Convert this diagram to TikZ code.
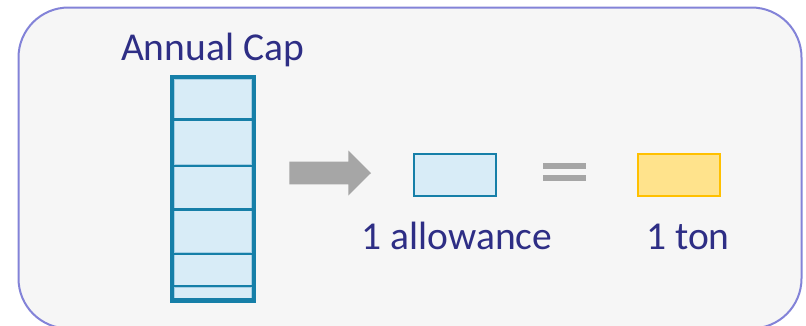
\documentclass[tikz,border=0pt]{standalone}
\usepackage{fontspec}
\setmainfont{Carlito}
\definecolor{frameC}{HTML}{8383D8}
\definecolor{bgC}{HTML}{F6F6F6}
\definecolor{navy}{HTML}{2E2E85}
\definecolor{tealC}{HTML}{167FA8}
\definecolor{lightC}{HTML}{D8ECF7}
\definecolor{cellEdge}{HTML}{A6CFE4}
\definecolor{grayC}{HTML}{A6A6A6}
\definecolor{goldC}{HTML}{FFC000}
\definecolor{paleGold}{HTML}{FFE38C}
\tikzset{
  lbl/.style={text=navy, font=\fontsize{39.5}{46}\selectfont, inner sep=0pt, anchor=base},
  unitbox/.style={draw=tealC, fill=lightC, line width=2pt},
  tonbox/.style={draw=goldC, fill=paleGold, line width=2pt},
  cell/.style={fill=lightC, draw=cellEdge, line width=0.8pt},
}
\begin{document}
\begin{tikzpicture}[x=1pt,y=-1pt]
\useasboundingbox (0,0) rectangle (806,325);
\fill[white] (0,0) rectangle (806,325);
% outer panel
\draw[frameC, fill=bgC, line width=2pt, rounded corners=50pt] (18.5,7.5) rectangle (801.5,328.5);
% title
\node[lbl] (title) at (212.5,60) {Annual Cap};
% column of cells
\foreach \a/\b in {79/118.5, 120.5/164.7, 166.7/208.5, 210.5/252.8, 254.8/285.2, 287.2/298.5}{
  \draw[cell] (174.5,\a) rectangle (251.5,\b);
}
\foreach \y in {119.5,165.7,209.5,253.8,286.2}{
  \draw[tealC, line width=2.3pt] (172,\y) -- (254,\y);
}
\node[draw=tealC, line width=4.3pt, minimum width=81.6pt, minimum height=223.5pt, inner sep=0pt] (cap) at (213,188.8) {};
% arrow
\fill[grayC] (289.3,161.7) -- (348.3,161.7) -- (348.3,150.5) -- (371,173) -- (348.3,195.5) -- (348.3,184.3) -- (289.3,184.3) -- cycle;
\coordinate (arrowtip) at (371,173);
% allowance box
\node[unitbox, minimum width=82pt, minimum height=42pt, inner sep=0pt] (allow) at (454.5,175) {};
% equals sign
\fill[grayC] (543.3,162.5) rectangle (586,168.7);
\fill[grayC] (543.3,174.5) rectangle (586,180.8);
% ton box
\node[tonbox, minimum width=82pt, minimum height=42pt, inner sep=0pt] (ton) at (679,175) {};
% labels
\node[lbl] (allowlbl) at (457,249.3) {1 allowance};
\node[lbl] (tonlbl) at (688,249.5) {1 ton};
\end{tikzpicture}
\end{document}
